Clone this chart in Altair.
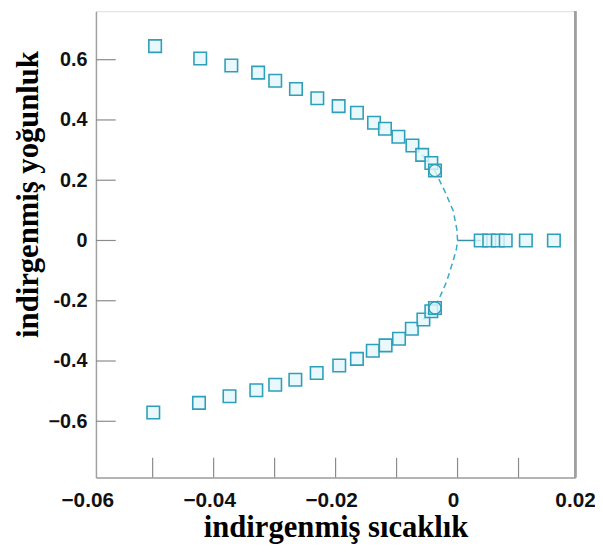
import altair as alt
import pandas as pd

# ---- data ----
upper_x = [-0.0496, -0.0422, -0.0371, -0.0327, -0.0299, -0.0265, -0.0230, -0.0195,
           -0.0165, -0.0137, -0.0119, -0.0097, -0.0074, -0.0058, -0.0043, -0.0037]
upper_y = [0.645, 0.604, 0.581, 0.557, 0.530, 0.503, 0.472, 0.446,
           0.424, 0.391, 0.371, 0.344, 0.315, 0.284, 0.257, 0.232]
lower_x = [-0.0499, -0.0424, -0.0374, -0.0330, -0.0299, -0.0266, -0.0231, -0.0194,
           -0.0165, -0.0139, -0.0118, -0.0096, -0.0075, -0.0056, -0.0043, -0.0037]
lower_y = [-0.571, -0.539, -0.517, -0.497, -0.479, -0.462, -0.440, -0.415,
           -0.393, -0.366, -0.348, -0.326, -0.293, -0.262, -0.235, -0.224]
right_x = [0.0038, 0.0052, 0.0066, 0.0079, 0.0112, 0.0158]
right_y = [0.0, 0.0, 0.0, 0.0, 0.0, 0.0]

circle_x = [-0.0037, -0.0037]
circle_y = [0.232, -0.224]

curve_x = [-0.0058, -0.0050, -0.0037, -0.0021, -0.0007, -0.0001, 0.0,
           -0.0002, -0.0007, -0.0018, -0.0031, -0.0042, -0.0056]
curve_y = [0.285, 0.262, 0.230, 0.164, 0.098, 0.035, 0.0,
           -0.030, -0.066, -0.137, -0.197, -0.239, -0.262]

stub_x = [0.0, 0.0038]
stub_y = [0.0, 0.0]

x_tick_values = [-0.05, -0.04, -0.03, -0.02, -0.01, 0.0, 0.01]
x_label_values = [-0.06, -0.04, -0.02, 0.0, 0.02]
x_label_texts = ["\u22120.06", "\u22120.04", "\u22120.02", "0", "0.02"]
y_tick_values = [-0.6, -0.4, -0.2, 0.0, 0.2, 0.4, 0.6]

W, H = 485, 472
STROKE = "#2e9fb8"
FILL = "#e2f6fb"
FRAME = "#a0a0a0"

xs = alt.Scale(domain=[-0.0593, 0.0193], nice=False, zero=False)
ys = alt.Scale(domain=[-0.787, 0.761], nice=False, zero=False)

pts = pd.DataFrame({"x": upper_x + lower_x + right_x, "y": upper_y + lower_y + right_y})
circ = pd.DataFrame({"x": circle_x, "y": circle_y})
curve = pd.DataFrame({"x": curve_x, "y": curve_y, "o": list(range(len(curve_x)))})
stub = pd.DataFrame({"x": stub_x, "y": stub_y, "o": [0, 1]})
xt = pd.DataFrame({"t": x_tick_values})
yt = pd.DataFrame({"t": y_tick_values})
xl = pd.DataFrame({"v": x_label_values, "s": x_label_texts})

x_axis = alt.Axis(ticks=False, labels=False, grid=False, domain=True,
                  domainColor=FRAME, domainWidth=1.5,
                  title="indirgenmiş sıcaklık", titleFont="Liberation Serif",
                  titleFontSize=31, titleFontWeight="bold", titleColor="black",
                  titleY=60, titleBaseline="alphabetic")
y_axis = alt.Axis(values=y_tick_values, ticks=False, grid=False, domain=True,
                  domainColor=FRAME, domainWidth=1.5,
                  labelExpr="datum.value == 0 ? '0' : (datum.value < -0.55 ? '\u22120.6' : replace(format(datum.value, '.1f'), '\u2212', '-'))",
                  labelFont="Liberation Sans", labelFontWeight="bold", labelFontSize=20,
                  labelColor="#111", labelPadding=9,
                  title="indirgenmiş yoğunluk", titleFont="Liberation Serif",
                  titleFontSize=31, titleFontWeight="bold", titleColor="black",
                  titleAngle=270, titleBaseline="bottom", titleX=-52, titleY=185)

curve_layer = alt.Chart(curve).mark_line(color="#3aaac8", strokeDash=[6, 4], strokeWidth=1.5).encode(
    x=alt.X("x:Q", scale=xs, axis=x_axis),
    y=alt.Y("y:Q", scale=ys, axis=y_axis),
    order="o:Q",
)
stub_layer = alt.Chart(stub).mark_line(color="#3a8fa0", strokeWidth=1.5).encode(
    x=alt.X("x:Q", scale=xs), y=alt.Y("y:Q", scale=ys), order="o:Q")

sq_layer = alt.Chart(pts).mark_point(shape="square", size=160, filled=False,
                                      stroke=STROKE, strokeWidth=1.6, fill=FILL,
                                      fillOpacity=0.8, opacity=1).encode(
    x=alt.X("x:Q", scale=xs), y=alt.Y("y:Q", scale=ys))
circ_layer = alt.Chart(circ).mark_point(shape="circle", size=150, filled=False,
                                         stroke=STROKE, strokeWidth=1.4, opacity=1).encode(
    x=alt.X("x:Q", scale=xs), y=alt.Y("y:Q", scale=ys))

xtick_layer = alt.Chart(xt).mark_rule(color="#8a8a8a", strokeWidth=1.2).encode(
    x=alt.X("t:Q", scale=xs), y=alt.value(H), y2=alt.value(H - 20))
ytick_layer = alt.Chart(yt).mark_rule(color="#8a8a8a", strokeWidth=1.2).encode(
    y=alt.Y("t:Q", scale=ys), x=alt.value(0), x2=alt.value(20))
right_frame = alt.Chart(xt).mark_rule(color=FRAME, strokeWidth=2).encode(
    x=alt.value(W), y=alt.value(0), y2=alt.value(H))
xlab_layer = alt.Chart(xl).mark_text(font="Liberation Sans", fontWeight="bold", fontSize=21,
                                     color="#111", baseline="alphabetic", dx=-4).encode(
    x=alt.X("v:Q", scale=xs), y=alt.value(H + 30), text="s:N")

chart = alt.layer(curve_layer, stub_layer, xtick_layer, ytick_layer, right_frame,
                  sq_layer, circ_layer, xlab_layer).properties(
    width=W, height=H,
    autosize=alt.AutoSizeParams(type="none"),
    padding={"left": 89, "top": 0, "right": 20, "bottom": 68},
).configure_view(stroke=None).configure(background="white")

chart.save("out.html", embed_options={"renderer": "svg", "actions": False})
